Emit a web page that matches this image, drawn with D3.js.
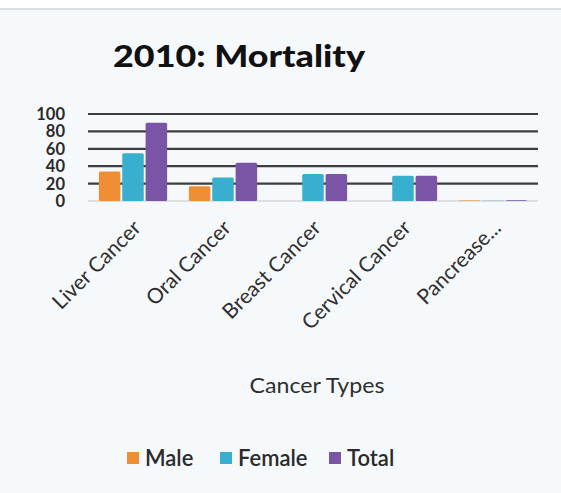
<!DOCTYPE html>
<html>
<head>
<meta charset="utf-8">
<script src="https://cdn.jsdelivr.net/npm/d3@7"></script>
<style>
  body { margin: 0; background: #fff; }
  svg { display: block; font-family: Lato, "Open Sans", sans-serif; }
</style>
</head>
<body>
<script>
const categories = ["Liver Cancer", "Oral Cancer", "Breast Cancer", "Cervical Cancer", "Pancrease..."];
const series = ["Male", "Female", "Total"];
const male = [34, 17, 0, 0, 0.6];
const female = [55, 27, 31, 29, 0.4];
const total = [90, 44, 31, 29, 1];
const yTicks = [0, 20, 40, 60, 80, 100];
const colors = ["#ef8f35", "#38afcf", "#7a54a7"];

const width = 561, height = 493;
const values = [male, female, total];
const data = categories.map((c, i) => ({cat: c, vals: series.map((s, j) => ({s, v: values[j][i]}))}));

const svg = d3.select("body").append("svg")
  .attr("width", width).attr("height", height);

// page background
svg.append("rect").attr("width", width).attr("height", height).attr("fill", "#f6f9fc");
svg.append("rect").attr("width", width).attr("height", 8).attr("fill", "#ffffff");
svg.append("rect").attr("y", 8).attr("width", width).attr("height", 2).attr("fill", "#dcdfe2");

const x0 = d3.scaleBand().domain(categories).range([88, 538]).paddingInner(0.2).paddingOuter(0.1);
const x1 = d3.scaleBand().domain(series).range([0, x0.bandwidth()]).padding(0.08);
const y = d3.scaleLinear().domain([0, 100]).range([201, 114]);

// grid lines
svg.append("g").selectAll("line")
  .data(yTicks)
  .join("line")
  .attr("x1", 88).attr("x2", 538)
  .attr("y1", d => y(d)).attr("y2", d => y(d))
  .attr("stroke", d => d === 0 ? "#d4d6d8" : "#3d3d3d")
  .attr("stroke-width", d => d === 0 ? 1.5 : 2.2);

// y tick labels (tightly stacked like the original)
svg.append("g").selectAll("text")
  .data(yTicks)
  .join("text")
  .attr("x", 65).attr("y", d => y(d))
  .attr("dy", "0.36em")
  .attr("text-anchor", "end")
  .attr("font-size", 16.5).attr("font-weight", 700)
  .attr("fill", "#2a2a2a")
  .text(d => d);

// bars
const groups = svg.append("g").selectAll("g")
  .data(data)
  .join("g")
  .attr("transform", d => `translate(${x0(d.cat)},0)`);

groups.selectAll("rect")
  .data(d => d.vals)
  .join("rect")
  .attr("x", d => x1(d.s))
  .attr("width", x1.bandwidth())
  .attr("y", d => y(d.v))
  .attr("height", d => y(0) - y(d.v))
  .attr("rx", 1.5)
  .attr("fill", (d, i) => colors[i]);

// x labels
svg.append("g").selectAll("text")
  .data(categories)
  .join("text")
  .attr("transform", d => `translate(${x0(d) + x0.bandwidth() / 2 + 4},224) rotate(-45)`)
  .attr("text-anchor", "end")
  .attr("dy", "0.35em")
  .attr("font-size", 21)
  .attr("fill", "#2f2f2f")
  .text(d => d);

// title
svg.append("text")
  .attr("x", 113).attr("y", 67)
  .attr("font-size", 31).attr("font-weight", 900)
  .attr("textLength", 252).attr("lengthAdjust", "spacingAndGlyphs")
  .attr("fill", "#111")
  .text("2010: Mortality");

// axis title
svg.append("text")
  .attr("x", 317).attr("y", 393)
  .attr("text-anchor", "middle")
  .attr("font-size", 21)
  .attr("textLength", 135).attr("lengthAdjust", "spacingAndGlyphs")
  .attr("fill", "#2f2f2f")
  .text("Cancer Types");

// legend
const legendX = [127, 220, 329];
const legend = svg.append("g").selectAll("g")
  .data(series)
  .join("g")
  .attr("transform", (d, i) => `translate(${legendX[i]},452)`);
legend.append("rect").attr("width", 12).attr("height", 12)
  .attr("fill", (d, i) => colors[i]);
legend.append("text")
  .attr("x", 18).attr("y", 14)
  .attr("font-size", 22).attr("font-weight", 600)
  .attr("fill", "#2a2a2a")
  .text(d => d);
</script>
</body>
</html>
